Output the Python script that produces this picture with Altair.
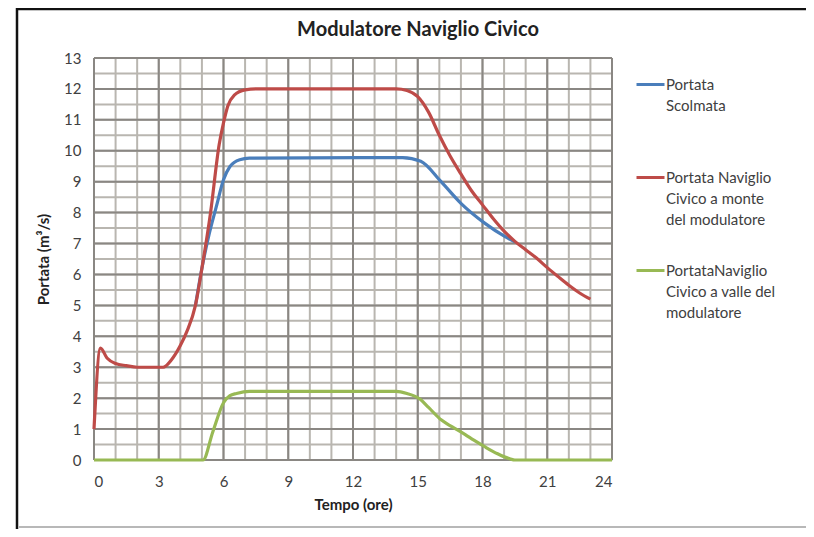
import altair as alt
import pandas as pd

# ---- data ----
t_monte = [0, 0.3, 0.6, 1.0, 1.5, 2.0, 2.5, 3.2, 3.6, 4.0, 4.3, 4.7, 5.0, 5.4, 5.8, 6.0, 6.2, 6.5, 7.0, 7.5,
           14.0, 14.5, 15.0, 15.5, 16.0, 16.5, 17.0, 17.5, 18.0, 18.5, 19.0, 19.5, 20.0, 20.5, 21.0, 21.5,
           22.0, 22.5, 23.0]
v_monte = [1.0, 3.62, 3.3, 3.12, 3.05, 3.0, 3.0, 3.0, 3.25, 3.7, 4.15, 5.0, 6.2, 8.0, 10.2, 10.9, 11.45, 11.8,
           11.97, 12.0, 12.0, 11.95, 11.75, 11.25, 10.5, 9.83, 9.25, 8.7, 8.25, 7.8, 7.4, 7.07, 6.8, 6.53,
           6.22, 5.93, 5.65, 5.4, 5.2]

t_scolmata = [4.7, 5.0, 5.3, 5.67, 6.0, 6.3, 6.75, 7.2, 14.3, 15.14, 16.08, 17.0, 18.1, 19.03, 19.5]
v_scolmata = [5.0, 6.2, 7.2, 8.2, 9.06, 9.49, 9.71, 9.76, 9.78, 9.66, 9.0, 8.3, 7.66, 7.23, 7.05]

t_valle = [0, 5.05, 5.5, 6.0, 6.3, 6.6, 7.2, 14.0, 14.5, 15.1, 15.5, 16.1, 16.6, 17.2, 17.6, 18.1, 18.7,
           19.3, 19.5, 24]
v_valle = [0, 0, 0.9, 1.85, 2.08, 2.15, 2.22, 2.22, 2.15, 1.97, 1.7, 1.29, 1.07, 0.82, 0.64, 0.43, 0.2,
           0.03, 0, 0]

series_names = ["Portata|Scolmata| ",
                "Portata Naviglio|Civico a monte|del modulatore",
                "PortataNaviglio|Civico a valle del|modulatore"]
series_colors = ["#4A7EBB", "#BE4B48", "#98B954"]

x_ticks = [0, 3, 6, 9, 12, 15, 18, 21, 24]
y_ticks = list(range(0, 14))
x_grid_minor = list(range(0, 25))
x_grid_major = [0, 3, 6, 9, 12, 15, 18, 21, 24]
y_grid_minor = [i * 0.5 for i in range(0, 27)]
y_grid_major = list(range(0, 14))

# ---- tables ----
df = pd.concat([
    pd.DataFrame({"t": t_scolmata, "v": v_scolmata, "serie": series_names[0], "ord": 0}),
    pd.DataFrame({"t": t_monte, "v": v_monte, "serie": series_names[1], "ord": 1}),
    pd.DataFrame({"t": t_valle, "v": v_valle, "serie": series_names[2], "ord": 2}),
])

FONT = "Lato"
xs = alt.Scale(domain=[0, 24], nice=False, zero=False)
ys = alt.Scale(domain=[0, 13], nice=False)

x_axis = alt.Axis(values=x_ticks, grid=False, ticks=False, domain=False, labelPadding=14,
                  labelFontSize=15, labelFont=FONT, labelColor="#404040",
                  titleFont=FONT, titleFontSize=15, titleFontWeight="bold", titleColor="#222222",
                  titlePadding=8)
y_axis = alt.Axis(values=y_ticks, grid=False, ticks=False, domain=False, labelPadding=13,
                  labelFontSize=15, labelFont=FONT, labelColor="#404040",
                  titleFont=FONT, titleFontSize=15, titleFontWeight="bold", titleColor="#222222",
                  titlePadding=12)
X_TITLE = "Tempo (ore)"
Y_TITLE = "Portata  (m³/s)"

xgm = alt.Chart(pd.DataFrame({"g": x_grid_minor})).mark_rule(color="#B9B6B0", strokeWidth=2).encode(
    x=alt.X("g:Q", scale=xs, axis=x_axis, title=X_TITLE))
ygm = alt.Chart(pd.DataFrame({"g": y_grid_minor})).mark_rule(color="#B9B6B0", strokeWidth=2).encode(
    y=alt.Y("g:Q", scale=ys, axis=y_axis, title=Y_TITLE))
xgM = alt.Chart(pd.DataFrame({"g": x_grid_major})).mark_rule(color="#8A8783", strokeWidth=2).encode(
    x=alt.X("g:Q", scale=xs, axis=x_axis, title=X_TITLE))
ygM = alt.Chart(pd.DataFrame({"g": y_grid_major})).mark_rule(color="#8A8783", strokeWidth=2).encode(
    y=alt.Y("g:Q", scale=ys, axis=y_axis, title=Y_TITLE))

lines = alt.Chart(df).mark_line(strokeWidth=3.2, interpolate="monotone").encode(
    x=alt.X("t:Q", scale=xs, title=X_TITLE, axis=x_axis),
    y=alt.Y("v:Q", scale=ys, title=Y_TITLE, axis=y_axis),
    color=alt.Color("serie:N",
                    scale=alt.Scale(domain=series_names, range=series_colors),
                    legend=alt.Legend(title=None, orient="none", legendX=541, legendY=11,
                                      symbolType="stroke", symbolSize=784, symbolStrokeWidth=3,
                                      labelExpr="split(datum.label, '|')", labelFont=FONT,
                                      labelFontSize=15, labelColor="#404040", labelLimit=300,
                                      labelOffset=0, rowPadding=27, labelBaseline="middle")),
    order=alt.Order("ord:Q"),
    detail="serie:N",
)

frame_left = alt.Chart().mark_rule(color="#111111", strokeWidth=2.5).encode(
    x=alt.value(-77), y=alt.value(-50), y2=alt.value(471))
frame_top = alt.Chart().mark_rule(color="#111111", strokeWidth=2.5).encode(
    x=alt.value(-77), x2=alt.value(712), y=alt.value(-49))
frame_bottom = alt.Chart().mark_rule(color="#A0A0A0", strokeWidth=1.5).encode(
    x=alt.value(-75), x2=alt.value(712), y=alt.value(469))

chart = alt.layer(xgm, ygm, xgM, ygM, lines, frame_left, frame_top, frame_bottom).properties(
    width=518, height=402,
    title=alt.TitleParams("Modulatore Naviglio Civico", font=FONT, fontSize=20, fontWeight="bold",
                          color="#222222", anchor="middle", frame="group", dx=65, offset=-33),
    autosize=alt.AutoSizeParams(type="none"),
    padding={"left": 86, "top": 50, "right": 194, "bottom": 69},
).configure_view(fill="#FFF8E1", strokeWidth=0).configure(
    background="white", style={"guide-label": {"lineHeight": 21}})

chart.save("out.html", embed_options={"renderer": "svg", "actions": False})
